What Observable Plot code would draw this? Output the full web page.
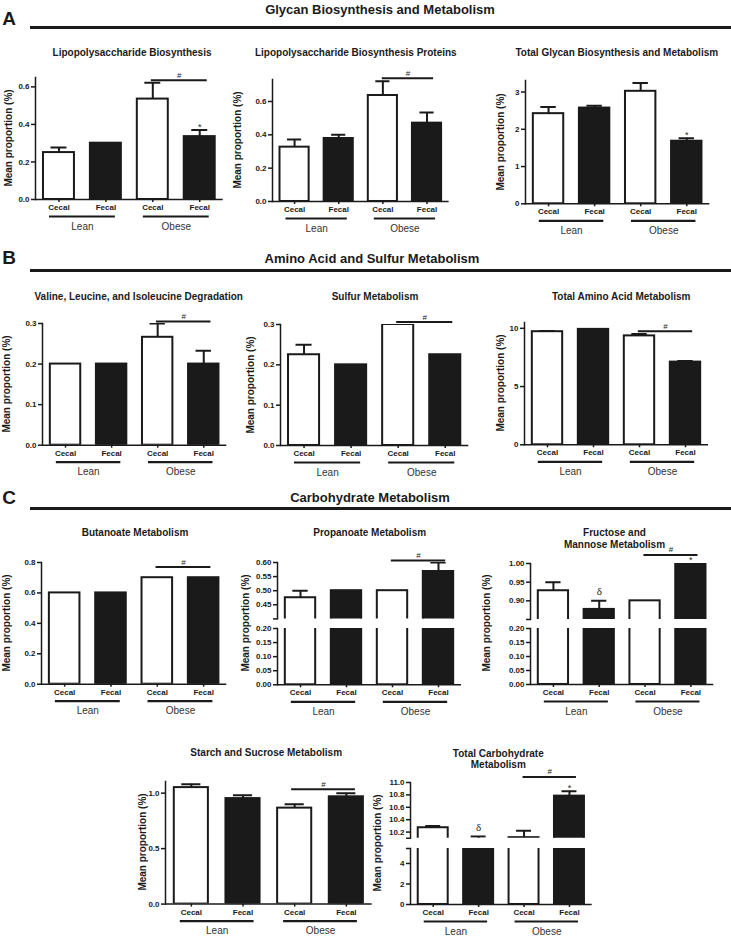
<!DOCTYPE html>
<html><head><meta charset="utf-8">
<script src="https://cdn.jsdelivr.net/npm/d3@7"></script>
<script src="https://cdn.jsdelivr.net/npm/@observablehq/plot@0.6"></script>
<style>
body{margin:0;background:#fff}
#fig{position:relative;width:731px;height:938px;overflow:hidden;background:#fff;font-family:"Liberation Sans",Arial,Helvetica,sans-serif;color:#1a1a1a}
.t{position:absolute;white-space:pre;transform:translate(-50%,-50%);text-align:center}
.rule{position:absolute;height:3px;background:#1a1a1a}
</style></head><body><div id="fig"></div>
<script>
// ---------------- data ----------------
const categories = ["Lean Cecal", "Lean Fecal", "Obese Cecal", "Obese Fecal"];
const groups = ["Lean", "Lean", "Obese", "Obese"];
const sites = ["Cecal", "Fecal", "Cecal", "Fecal"];
const sigPair = [categories[2], categories[3]];

const sectionLetters = ["A", "B", "C"];
const sectionTitles = ["Glycan Biosynthesis and Metabolism", "Amino Acid and Sulfur Metabolism", "Carbohydrate Metabolism"];

const chartTitles = [
  "Lipopolysaccharide Biosynthesis",
  "Lipopolysaccharide Biosynthesis Proteins",
  "Total Glycan Biosynthesis and Metabolism",
  "Valine, Leucine, and Isoleucine Degradation",
  "Sulfur Metabolism",
  "Total Amino Acid Metabolism",
  "Butanoate Metabolism",
  "Propanoate Metabolism",
  "Fructose and\nMannose Metabolism",
  "Starch and Sucrose Metabolism",
  "Total Carbohydrate\nMetabolism"
];
const yLabel = "Mean proportion (%)";

// A
const lpsMean = [0.25, 0.30, 0.535, 0.335];
const lpsErr = [0.027, 0, 0.087, 0.035];
const lpsNote = ["", "", "", "*"];
const lpsSig = 0.635;
const lpsTicks = [0, 0.2, 0.4, 0.6];

const lpsProtMean = [0.326, 0.378, 0.636, 0.47];
const lpsProtErr = [0.046, 0.022, 0.086, 0.064];
const lpsProtSig = 0.74;
const lpsProtTicks = [0, 0.2, 0.4, 0.6];

const glycanMean = [2.42, 2.57, 3.02, 1.68];
const glycanErr = [0.18, 0.06, 0.22, 0.08];
const glycanNote = ["", "", "", "*"];
const glycanTicks = [0, 1, 2, 3];

// B
const valineMean = [0.2, 0.2, 0.266, 0.2];
const valineErr = [0, 0, 0.034, 0.033];
const valineSig = 0.305;
const valineTicks = [0, 0.1, 0.2, 0.3];

const sulfurMean = [0.225, 0.2, 0.3, 0.225];
const sulfurErr = [0.025, 0, 0, 0];
const sulfurSig = 0.306;
const sulfurTicks = [0, 0.1, 0.2, 0.3];

const aminoMean = [9.71, 9.91, 9.35, 7.1];
const aminoErr = [0.06, 0.04, 0.17, 0.1];
const aminoSig = 9.74;
const aminoTicks = [0, 5, 10];

// C
const butanoateMean = [0.6, 0.6, 0.7, 0.7];
const butanoateErr = [0, 0, 0, 0];
const butanoateSig = 0.77;
const butanoateTicks = [0, 0.2, 0.4, 0.6, 0.8];

const propanoateMean = [0.475, 0.5, 0.5, 0.568];
const propanoateErr = [0.025, 0, 0, 0.032];
const propanoateSig = 0.607;
const propanoateTopTicks = [0.45, 0.50, 0.55, 0.60];
const propanoateBottomTicks = [0, 0.05, 0.10, 0.15, 0.20];

const fructoseMean = [0.927, 0.877, 0.90, 1.00];
const fructoseErr = [0.023, 0.023, 0, 0];
const fructoseNote = ["", "δ", "", "*"];
const fructoseSig = 1.023;
const fructoseTopTicks = [0.90, 0.95, 1.00];
const fructoseBottomTicks = [0, 0.05, 0.10, 0.15, 0.20];

const starchMean = [1.05, 0.951, 0.865, 0.967];
const starchErr = [0.03, 0.031, 0.035, 0.033];
const starchSig = 1.036;
const starchTicks = [0, 0.5, 1.0];

const carbMean = [10.27, 10.05, 10.11, 10.78];
const carbErr = [0.03, 0.08, 0.11, 0.08];
const carbNote = ["", "δ", "", "*"];
const carbSig = 11.09;
const carbTopTicks = [10.2, 10.4, 10.6, 10.8, 11.0];
const carbBottomTicks = [0, 2, 4];

// ---------------- chart specs (data + axis domains) ----------------
const specs = [
  {mean: lpsMean, err: lpsErr, note: lpsNote, sig: lpsSig, segments: [{domain: [0, 0.65], ticks: lpsTicks, fmt: ".1f"}]},
  {mean: lpsProtMean, err: lpsProtErr, sig: lpsProtSig, segments: [{domain: [0, 0.732], ticks: lpsProtTicks, fmt: ".1f"}]},
  {mean: glycanMean, err: glycanErr, note: glycanNote, sig: null, segments: [{domain: [0, 3.31], ticks: glycanTicks, fmt: "d"}]},
  {mean: valineMean, err: valineErr, sig: valineSig, segments: [{domain: [0, 0.3], ticks: valineTicks, fmt: ".1f"}]},
  {mean: sulfurMean, err: sulfurErr, sig: sulfurSig, segments: [{domain: [0, 0.3], ticks: sulfurTicks, fmt: ".1f"}]},
  {mean: aminoMean, err: aminoErr, sig: aminoSig, segments: [{domain: [0, 10.5], ticks: aminoTicks, fmt: "d"}]},
  {mean: butanoateMean, err: butanoateErr, sig: butanoateSig, segments: [{domain: [0, 0.8], ticks: butanoateTicks, fmt: ".1f"}]},
  {mean: propanoateMean, err: propanoateErr, sig: propanoateSig, segments: [
    {domain: [0.40, 0.60], ticks: propanoateTopTicks, fmt: ".2f"},
    {domain: [0, 0.20], ticks: propanoateBottomTicks, fmt: ".2f"}]},
  {mean: fructoseMean, err: fructoseErr, note: fructoseNote, sig: fructoseSig, segments: [
    {domain: [0.85, 1.00], ticks: fructoseTopTicks, fmt: ".2f"},
    {domain: [0, 0.20], ticks: fructoseBottomTicks, fmt: ".2f"}]},
  {mean: starchMean, err: starchErr, sig: starchSig, segments: [{domain: [0, 1.105], ticks: starchTicks, fmt: ".1f"}]},
  {mean: carbMean, err: carbErr, note: carbNote, sig: carbSig, segments: [
    {domain: [10.1, 11.0], ticks: carbTopTicks, fmt: ".1f"},
    {domain: [0, 5.46], ticks: carbBottomTicks, fmt: "d"}]}
];

// ---------------- layout (page positions) ----------------
const sectionLayout = [
  {letterY: 19, titleX: 380, titleY: 8.5, ruleY: 26},
  {letterY: 258, titleX: 372, titleY: 258, ruleY: 268.5},
  {letterY: 498, titleX: 370, titleY: 497, ruleY: 506.5}
];
const layout = [
  {axisX: 35, axisEnd: 222.7, px: [[77.3, 199.3]], titleX: 132, titleY: 53, ylabX: 8},
  {axisX: 271.7, axisEnd: 448.3, px: [[79, 201]], titleX: 355.8, titleY: 53, ylabX: 237},
  {axisX: 525, axisEnd: 709.3, px: [[80, 203.3]], titleX: 616.8, titleY: 53, ylabX: 500},
  {axisX: 41.7, axisEnd: 226, px: [[323.3, 445]], titleX: 138.7, titleY: 297.3, ylabX: 6},
  {axisX: 280, axisEnd: 468.3, px: [[324, 445]], titleX: 375, titleY: 297.3, ylabX: 250},
  {axisX: 524.3, axisEnd: 708.3, px: [[321.7, 444]], titleX: 621.2, titleY: 297.3, ylabX: 500},
  {axisX: 40.7, axisEnd: 226, px: [[562.3, 684]], titleX: 135, titleY: 533.3, ylabX: 6},
  {axisX: 276.7, axisEnd: 460.7, px: [[562.3, 618.7], [627.7, 684]], titleX: 369.7, titleY: 533.3, ylabX: 245},
  {axisX: 530, axisEnd: 713.3, px: [[562.7, 618.7], [627.7, 683.7]], titleX: 614.5, titleY: 539.2, ylabX: 486},
  {axisX: 165, axisEnd: 371.7, px: [[780.7, 903.3]], titleX: 266.2, titleY: 753.3, ylabX: 142},
  {axisX: 410, axisEnd: 591.7, px: [[782.3, 838.1], [847.7, 903.7]], titleX: 498.3, titleY: 759.5, ylabX: 377}
];

// ---------------- drawing ----------------
const INK = "#1a1a1a";
const FONT = '"Liberation Sans", Arial, Helvetica, sans-serif';
const fig = document.getElementById("fig");

function addText(txt, x, y, css) {
  const d = document.createElement("div");
  d.className = "t";
  d.textContent = txt;
  d.style.left = x + "px";
  d.style.top = y + "px";
  Object.assign(d.style, css || {});
  fig.appendChild(d);
  return d;
}

sectionLetters.forEach((letter, i) => {
  const S = sectionLayout[i];
  addText(letter, 9, S.letterY, {fontSize: "19px", fontWeight: "bold"});
  addText(sectionTitles[i], S.titleX, S.titleY, {fontSize: "13px", fontWeight: "bold"});
  const r = document.createElement("div");
  r.className = "rule";
  r.style.left = "30px";
  r.style.width = "701px";
  r.style.top = S.ruleY + "px";
  fig.appendChild(r);
});

const siteByCat = new Map(categories.map((c, i) => [c, sites[i]]));

function drawChart(spec, L, title) {
  const rows = categories.map((cat, i) => ({
    cat, group: groups[i], site: sites[i],
    mean: spec.mean[i], err: spec.err[i], note: spec.note ? spec.note[i] : ""
  }));
  const errRows = rows.filter(d => d.err > 0);
  const groupRows = Array.from(d3.group(rows, d => d.group), ([group, rs]) => ({group, first: rs[0].cat, last: rs[rs.length - 1].cat}));
  const W = L.axisEnd - L.axisX;
  const step = W / categories.length;
  const n = spec.segments.length;

  spec.segments.forEach((seg, k) => {
    const [pxTop, pxBottom] = L.px[k];
    const isTop = k === 0, isBottom = k === n - 1;
    const mt = isTop ? 30 : 0, mb = isBottom ? 40 : 0, ml = 40, mr = 12;
    const fmt = d3.format(seg.fmt);
    const breakTicks = [];
    if (n > 1 && isTop) breakTicks.push(seg.domain[0]);
    if (n > 1 && !isTop && !seg.ticks.includes(seg.domain[1])) breakTicks.push(seg.domain[1]);
    const allTicks = seg.ticks.concat(breakTicks);

    const marks = [
      Plot.barY(rows.filter(d => d.site === "Cecal"), {x: "cat", y: "mean", fill: "white", stroke: INK, strokeWidth: 2, clip: true}),
      Plot.barY(rows.filter(d => d.site === "Fecal"), {x: "cat", y: "mean", fill: INK, stroke: INK, strokeWidth: 2, clip: true}),
      Plot.ruleX(errRows, {x: "cat", y1: "mean", y2: d => d.mean + d.err, stroke: INK, strokeWidth: 2, clip: true}),
      Plot.tickY(errRows, {x: "cat", y: d => d.mean + d.err, stroke: INK, strokeWidth: 2, insetLeft: 7.5, insetRight: 7.5, clip: true}),
      Plot.frame({anchor: "left", stroke: INK, strokeWidth: 1.5}),
      Plot.axisY({ticks: allTicks, tickFormat: v => seg.ticks.includes(v) ? fmt(v) : "", tickSize: 4, tickPadding: 2,
        label: null, fontSize: 8, fontWeight: "bold", stroke: INK, strokeWidth: 1.5})
    ];
    if (isBottom) {
      marks.push(
        Plot.ruleY([0], {stroke: INK, strokeWidth: 1.5}),
        Plot.axisX({tickSize: 3, tickPadding: 2, tickFormat: c => siteByCat.get(c), label: null,
          fontSize: 8, fontWeight: "bold", stroke: INK, strokeWidth: 1.5}),
        Plot.ruleY(groupRows, {x1: "first", x2: "last", y: () => 0, dy: 17, insetLeft: 6, insetRight: 6, stroke: INK, strokeWidth: 2.2}),
        Plot.text(groupRows, {x: "first", y: () => 0, text: "group", dx: step / 2, dy: 27, fontSize: 10, fontWeight: "normal", fill: "#333"})
      );
    }
    if (isTop) {
      if (spec.sig != null) {
        marks.push(
          Plot.ruleY([spec.sig], {y: d => d, x1: () => sigPair[0], x2: () => sigPair[1], insetLeft: 14, insetRight: 8, stroke: INK, strokeWidth: 2}),
          Plot.text([spec.sig], {y: d => d, x: () => sigPair[0], text: () => "#", dx: step / 2 + 3, dy: -5, fontSize: 8, fontWeight: "normal"})
        );
      }
      marks.push(
        Plot.text(rows.filter(d => d.note === "*"), {x: "cat", y: d => d.mean + d.err, text: "note", dy: -3, fontSize: 9, fontWeight: "normal"}),
        Plot.text(rows.filter(d => d.note === "δ"), {x: "cat", y: d => d.mean + d.err, text: "note", dy: -9, fontSize: 11, fontWeight: "normal", fontFamily: '"Liberation Serif", serif'})
      );
    }

    const svg = Plot.plot({
      width: W + ml + mr,
      height: (pxBottom - pxTop) + mt + mb,
      marginLeft: ml, marginRight: mr, marginTop: mt, marginBottom: mb,
      x: Object.assign({domain: categories, paddingInner: 0.34, paddingOuter: 0.17, round: false}, isBottom ? {} : {axis: null}),
      y: {domain: seg.domain},
      style: {background: "transparent", overflow: "visible", fontFamily: FONT, color: INK},
      marks
    });
    svg.style.position = "absolute";
    svg.style.left = (L.axisX - ml) + "px";
    svg.style.top = (pxTop - mt) + "px";
    svg.style.maxWidth = "none";
    fig.appendChild(svg);
  });

  addText(title, L.titleX, L.titleY, {fontSize: "10px", fontWeight: "bold", lineHeight: "11.7px"});
  const yc = (L.px[0][0] + L.px[L.px.length - 1][1]) / 2;
  addText(yLabel, L.ylabX, yc, {fontSize: "10px", fontWeight: "bold", transform: "translate(-50%,-50%) rotate(-90deg)"});
}

specs.forEach((s, i) => drawChart(s, layout[i], chartTitles[i]));
</script></body></html>
